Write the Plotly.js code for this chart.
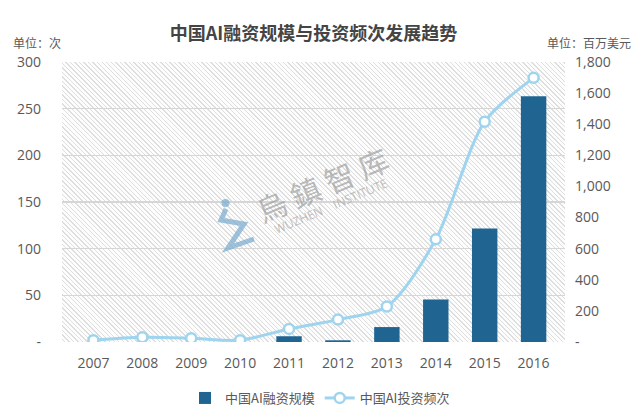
<!DOCTYPE html>
<html><head><meta charset="utf-8">
<script src="https://cdn.plot.ly/plotly-3.0.1.min.js"></script>
<style>
html,body{margin:0;padding:0;background:#fff}
#wrap{position:relative;width:640px;height:411px}
#hatch{position:absolute;left:62px;top:62px;width:503px;height:280px;
  background:repeating-linear-gradient(45deg,#fdfdfd 0px,#fdfdfd 1.6px,#dedede 1.6px,#dedede 2.6px,#fdfdfd 2.6px,#fdfdfd 3.2px);}
#chart{position:absolute;left:0;top:0;width:640px;height:411px}
</style>
</head><body><div id="wrap"><div id="hatch"></div><div id="chart"></div></div>
<script>
const years = ['2007','2008','2009','2010','2011','2012','2013','2014','2015','2016'];
const financing = [0, 0, 0, 0, 37, 11, 96, 273, 729, 1580]; // 百万美元
const frequency = [2, 5, 4, 2, 14, 24, 38, 110, 236, 283]; // 次
const leftTickVals = [0, 50, 100, 150, 200, 250, 300];
const leftTickText = ['-', '50', '100', '150', '200', '250', '300'];
const rightTickVals = [0, 200, 400, 600, 800, 1000, 1200, 1400, 1600, 1800];
const rightTickText = ['-', '200', '400', '600', '800', '1,000', '1,200', '1,400', '1,600', '1,800'];

const PL = 62, PR = 565, PT = 62, PB = 342;
function px(x){ return (x - PL) / (PR - PL); }
function py(y){ return (PB - y) / (PB - PT); }

const font = 'Open Sans, Noto Sans CJK SC, sans-serif';
const traces = [
  {
    type: 'bar', name: '中国AI融资规模', x: years, y: financing, yaxis: 'y',
    marker: {color: '#206592'}, width: 0.52
  },
  {
    type: 'scatter', mode: 'lines+markers', name: '中国AI投资频次', x: years, y: frequency, yaxis: 'y2',
    line: {color: '#9fd4ef', width: 3, shape: 'spline', smoothing: 0.8},
    marker: {size: 10, color: '#ffffff', line: {color: '#9fd4ef', width: 2.5}}
  }
];

const logoPath = (() => {
  const pts = [[226,209],[221,220],[244,224],[228,248],[254,239]];
  return 'M ' + pts.map(p => px(p[0]).toFixed(4) + ',' + py(p[1]).toFixed(4)).join(' L ');
})();

const layout = {
  width: 640, height: 411,
  margin: {l: PL, r: 640 - PR, t: PT, b: 411 - PB},
  paper_bgcolor: 'rgba(0,0,0,0)', plot_bgcolor: 'rgba(0,0,0,0)',
  font: {family: font, color: '#595959', size: 14},
  title: {text: '<b>中国AI融资规模与投资频次发展趋势</b>', x: 0.5, xref: 'paper', xanchor: 'center',
          y: 1 - 34/411, yref: 'container', yanchor: 'middle',
          font: {family: 'Noto Sans CJK SC, sans-serif', size: 18, color: '#444444'}},
  showlegend: true,
  legend: {orientation: 'h', x: 0.5, xref: 'container', xanchor: 'center',
           y: 1 - 398/411, yref: 'container', yanchor: 'middle',
           font: {size: 13, color: '#595959', family: 'Noto Sans CJK SC, sans-serif'},
           itemwidth: 30, traceorder: 'normal', bgcolor: 'rgba(0,0,0,0)'},
  xaxis: {type: 'category', tickfont: {size: 14}, showgrid: false, zeroline: false, showline: false,
          ticks: '', ticklabelstandoff: 11},
  yaxis: {side: 'right', range: [0, 1800], tickvals: rightTickVals, ticktext: rightTickText,
          showgrid: false, zeroline: false, ticks: '', ticklabelstandoff: 9, tickfont: {size: 14}},
  yaxis2: {side: 'left', overlaying: 'y', range: [0, 300], tickvals: leftTickVals, ticktext: leftTickText,
           showgrid: true, gridcolor: '#d6d6d6', gridwidth: 1.5, zeroline: false, ticks: '',
           ticklabelstandoff: 20, tickfont: {size: 14}},
  shapes: [
    {type: 'path', xref: 'paper', yref: 'paper', path: logoPath,
     line: {color: 'rgba(125,172,208,0.75)', width: 5}},
    {type: 'circle', xref: 'paper', yref: 'paper', x0: px(221.5), x1: px(229.5), y0: py(207), y1: py(199),
     fillcolor: 'rgba(125,172,208,0.75)', line: {width: 0}}
  ],
  annotations: [
    {text: '单位：次', xref: 'paper', yref: 'paper', x: px(12), xanchor: 'left', y: py(42), yanchor: 'middle',
     showarrow: false, borderpad: 0, font: {size: 12, color: '#595959', family: 'Noto Sans CJK SC, sans-serif'}},
    {text: '单位：百万美元', xref: 'paper', yref: 'paper', x: px(632), xanchor: 'right', y: py(42), yanchor: 'middle',
     showarrow: false, borderpad: 0, font: {size: 12, color: '#595959', family: 'Noto Sans CJK SC, sans-serif'}},
    {text: '烏 鎮 智 库', xref: 'paper', yref: 'paper', x: px(322), y: py(184), showarrow: false, textangle: -23,
     font: {size: 30, color: 'rgba(150,150,150,0.65)', family: 'Noto Sans CJK TC, sans-serif'}},
    {text: 'WUZHEN&nbsp;&nbsp;&nbsp;&nbsp;INSTITUTE', xref: 'paper', yref: 'paper', x: px(330), y: py(206), showarrow: false, textangle: -23,
     font: {size: 12, color: 'rgba(165,165,165,0.7)', family: 'Open Sans, sans-serif'}}
  ]
};

Plotly.newPlot('chart', traces, layout, {displayModeBar: false, staticPlot: true});
</script></body></html>
